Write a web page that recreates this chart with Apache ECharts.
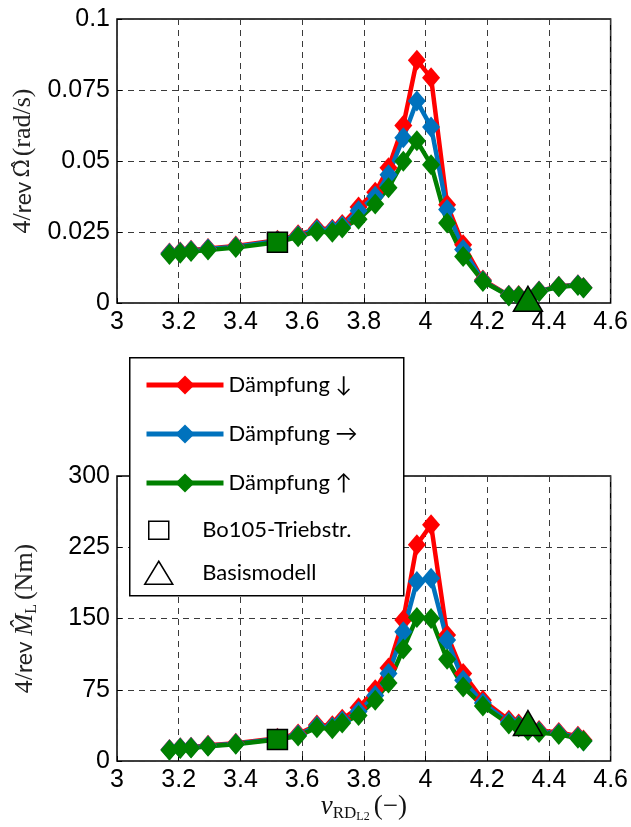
<!DOCTYPE html>
<html>
<head>
<meta charset="utf-8">
<script src="https://cdn.jsdelivr.net/npm/echarts@6/dist/echarts.min.js"></script>
<style>
  html, body { margin: 0; padding: 0; background: #fff; }
  #chart { width: 631px; height: 827px; }
</style>
</head>
<body>
<div id="chart"></div>
<script>
// Rotor frequency ratio nu_RD,L2 (shared by all curves)
const nu = [3.17, 3.205, 3.24, 3.295, 3.385, 3.52, 3.587, 3.648, 3.698, 3.73, 3.783, 3.837, 3.88,
            3.928, 3.972, 4.018, 4.07, 4.122, 4.186, 4.27, 4.302, 4.332, 4.368, 4.432, 4.494, 4.512];

// 4/rev rotor speed amplitude (rad/s)
const omegaLow  = [0.0176, 0.0180, 0.0186, 0.0192, 0.0201, 0.0221, 0.0240, 0.0262, 0.0260, 0.0276, 0.0338, 0.0390, 0.0476,
                   0.0625, 0.0855, 0.0793, 0.0346, 0.0205, 0.0081, 0.0027, 0.0026, 0.0014, 0.0042, 0.0059, 0.0064, 0.0055];
const omegaMid  = [0.0174, 0.0178, 0.0184, 0.0190, 0.0198, 0.0218, 0.0237, 0.0258, 0.0256, 0.0271, 0.0325, 0.0376, 0.0452,
                   0.0582, 0.0711, 0.0620, 0.0329, 0.0188, 0.0078, 0.0026, 0.0025, 0.0013, 0.0041, 0.0058, 0.0063, 0.0054];
const omegaHigh = [0.0171, 0.0175, 0.0181, 0.0187, 0.0195, 0.0214, 0.0233, 0.0252, 0.0249, 0.0264, 0.0295, 0.0349, 0.0406,
                   0.0499, 0.0571, 0.0487, 0.0282, 0.0164, 0.0076, 0.0025, 0.0024, 0.0012, 0.0040, 0.0057, 0.0062, 0.0053];

// 4/rev lead-lag moment amplitude (Nm)
const momentLow  = [12.2, 14.0, 14.6, 16.5, 18.8, 24.0, 28.4, 38.0, 37.0, 44.0, 56.0, 75.0, 98.0,
                    148.5, 227.6, 248.7, 132.7, 92.0, 64.0, 43.0, 39.0, 34.0, 32.0, 30.0, 26.0, 22.0];
const momentMid  = [11.8, 13.6, 14.2, 16.0, 18.2, 23.3, 27.4, 36.5, 35.5, 42.0, 52.0, 69.0, 92.0,
                    136.0, 189.0, 192.5, 127.4, 85.0, 61.0, 41.0, 37.5, 33.0, 31.0, 29.0, 25.0, 21.0];
const momentHigh = [11.3, 13.1, 13.7, 15.5, 17.6, 22.6, 26.4, 35.0, 34.0, 40.0, 48.0, 64.0, 82.0,
                    118.0, 151.0, 150.0, 107.0, 78.0, 58.0, 39.0, 36.0, 32.0, 30.0, 28.0, 24.0, 21.0];

// Reference configurations
const bo105Nu = [3.52];
const bo105Omega = [0.0214];
const bo105Moment = [22.6];
const basisNu = [4.332];
const basisOmega = [0.0015];
const basisMoment = [40];

// Axis ticks
const xTicks = { min: 3, max: 4.6, step: 0.2 };
const omegaTicks = { min: 0, max: 0.1, step: 0.025 };
const momentTicks = { min: 0, max: 300, step: 75 };

const names = ['Dämpfung ↓', 'Dämpfung →', 'Dämpfung ↑'];
const colors = ['#ff0000', '#0072bd', '#008000'];
const nameBo = 'Bo105-Triebstr.';
const nameBasis = 'Basismodell';

const pairs = (xs, ys) => xs.map((x, i) => [x, ys[i]]);

const tickFont = { fontFamily: 'Liberation Sans', fontSize: 25, color: '#000' };
const gridLine = { show: true, lineStyle: { color: '#3a3a3a', width: 1, type: [6, 5] } };

function xAxis(gridIndex, withName) {
  const ax = {
    type: 'value', gridIndex,
    min: xTicks.min, max: xTicks.max, interval: xTicks.step,
    axisLine: { show: false },
    axisTick: { show: true, inside: true, length: 5, lineStyle: { color: '#000', width: 1 } },
    axisLabel: Object.assign({ margin: 7 }, tickFont),
    splitLine: gridLine
  };
  if (withName) {
    ax.name = '{mi|ν}{sub|RD}{subsub|L2}{m|(−)}';
    ax.nameLocation = 'middle';
    ax.nameGap = 27;
    ax.nameTextStyle = {
      rich: {
        mi: { fontFamily: 'Liberation Serif', fontStyle: 'italic', fontSize: 27, lineHeight: 30, color: '#111' },
        sub: { fontFamily: 'Liberation Serif', fontSize: 17, lineHeight: 16, verticalAlign: 'bottom', color: '#111' },
        subsub: { fontFamily: 'Liberation Serif', fontSize: 12, lineHeight: 4, verticalAlign: 'bottom', color: '#111', padding: [0, 4, 0, 0] },
        m: { fontFamily: 'Liberation Serif', fontSize: 27, lineHeight: 30, color: '#111' }
      }
    };
  }
  return ax;
}

function yAxis(gridIndex, ticks, name) {
  return {
    type: 'value', gridIndex,
    min: ticks.min, max: ticks.max, interval: ticks.step,
    axisLine: { show: false },
    axisTick: { show: true, inside: true, length: 5, lineStyle: { color: '#000', width: 1 } },
    axisLabel: Object.assign({ margin: 7 }, tickFont),
    splitLine: gridLine,
    name, nameLocation: 'middle', nameGap: 77,
    nameTextStyle: {
      rich: {
        m: { fontFamily: 'Liberation Serif', fontSize: 26, lineHeight: 30, color: '#222' },
        g: { fontFamily: 'DejaVu Serif', fontSize: 22, lineHeight: 30, color: '#222', padding: [0, 3, 0, 4] },
        mi: { fontFamily: 'Liberation Serif', fontStyle: 'italic', fontSize: 26, lineHeight: 30, color: '#222' },
        s: { fontFamily: 'Lato', fontSize: 23, lineHeight: 30, color: '#222' },
        sub: { fontFamily: 'Liberation Serif', fontSize: 16, lineHeight: 15, verticalAlign: 'bottom', color: '#222', padding: [0, 4, 0, 0] }
      }
    }
  };
}

function curve(name, color, xi, yi, xs, ys) {
  return {
    name, type: 'line', xAxisIndex: xi, yAxisIndex: yi,
    data: pairs(xs, ys),
    symbol: 'diamond', symbolSize: [18, 21], showSymbol: true,
    clip: false,
    lineStyle: { color, width: 4.5 },
    itemStyle: { color },
    emphasis: { disabled: true },
    animation: false
  };
}

function marker(name, symbol, size, xi, yi, xs, ys) {
  return {
    name, type: 'scatter', xAxisIndex: xi, yAxisIndex: yi,
    data: pairs(xs, ys), symbol, symbolSize: size, clip: false,
    itemStyle: { color: '#008000', borderColor: '#000', borderWidth: 1.5, opacity: 1 },
    emphasis: { disabled: true }, z: 5, animation: false
  };
}

const legendText = { fontFamily: 'Lato', fontSize: 22, lineHeight: 24, color: '#000' };

const option = {
  backgroundColor: '#fff',
  animation: false,
  grid: [
    { left: 117, top: 19, width: 496, height: 284, show: true, borderColor: '#000', borderWidth: 1.5, backgroundColor: 'transparent' },
    { left: 117, top: 476, width: 496, height: 285, show: true, borderColor: '#000', borderWidth: 1.5, backgroundColor: 'transparent' }
  ],
  xAxis: [xAxis(0, false), xAxis(1, true)],
  yAxis: [
    yAxis(0, omegaTicks, '{m|4/}{s|rev}{g|Ω̂}{m|(rad/s)}'),
    yAxis(1, momentTicks, '{m|4/}{s|rev }{mi|M̂}{sub|L}{m|(Nm)}')
  ],
  graphic: {
    z: 8,
    elements: [{
      type: 'rect', z: 8, left: 129, top: 357,
      shape: { width: 274, height: 238 },
      style: { fill: '#fff', stroke: '#000', lineWidth: 1.5 }
    }]
  },
  legend: [
    {
      z: 10, orient: 'vertical', left: 144, top: 373, padding: 0,
      itemWidth: 77, itemHeight: 24, itemGap: 25,
      selectedMode: false, textStyle: legendText,
      lineStyle: { width: 5 },
      data: names
    },
    {
      z: 10, orient: 'vertical', left: 144, top: 518, padding: 0,
      itemWidth: 77, itemHeight: 23, itemGap: 18,
      selectedMode: false, textStyle: legendText,
      data: [
        { name: nameBo, icon: 'path://M0,0M28,23M4,2.5L24,2.5L24,20.5L4,20.5Z',
          itemStyle: { color: 'rgba(255,255,255,0)', borderColor: '#000', borderWidth: 1.5 } },
        { name: nameBasis, icon: 'path://M0,0M28,23M14,0L28,23L0,23Z',
          itemStyle: { color: 'rgba(255,255,255,0)', borderColor: '#000', borderWidth: 1.5 } }
      ]
    }
  ],
  series: [
    curve(names[0], colors[0], 0, 0, nu, omegaLow),
    curve(names[1], colors[1], 0, 0, nu, omegaMid),
    curve(names[2], colors[2], 0, 0, nu, omegaHigh),
    marker(nameBo, 'rect', [20, 20], 0, 0, bo105Nu, bo105Omega),
    marker(nameBasis, 'triangle', [29, 25], 0, 0, basisNu, basisOmega),
    curve(names[0], colors[0], 1, 1, nu, momentLow),
    curve(names[1], colors[1], 1, 1, nu, momentMid),
    curve(names[2], colors[2], 1, 1, nu, momentHigh),
    marker(nameBo, 'rect', [20, 20], 1, 1, bo105Nu, bo105Moment),
    marker(nameBasis, 'triangle', [29, 25], 1, 1, basisNu, basisMoment)
  ]
};

const chart = echarts.init(document.getElementById('chart'), null, { renderer: 'canvas' });
chart.setOption(option);
</script>
</body>
</html>
